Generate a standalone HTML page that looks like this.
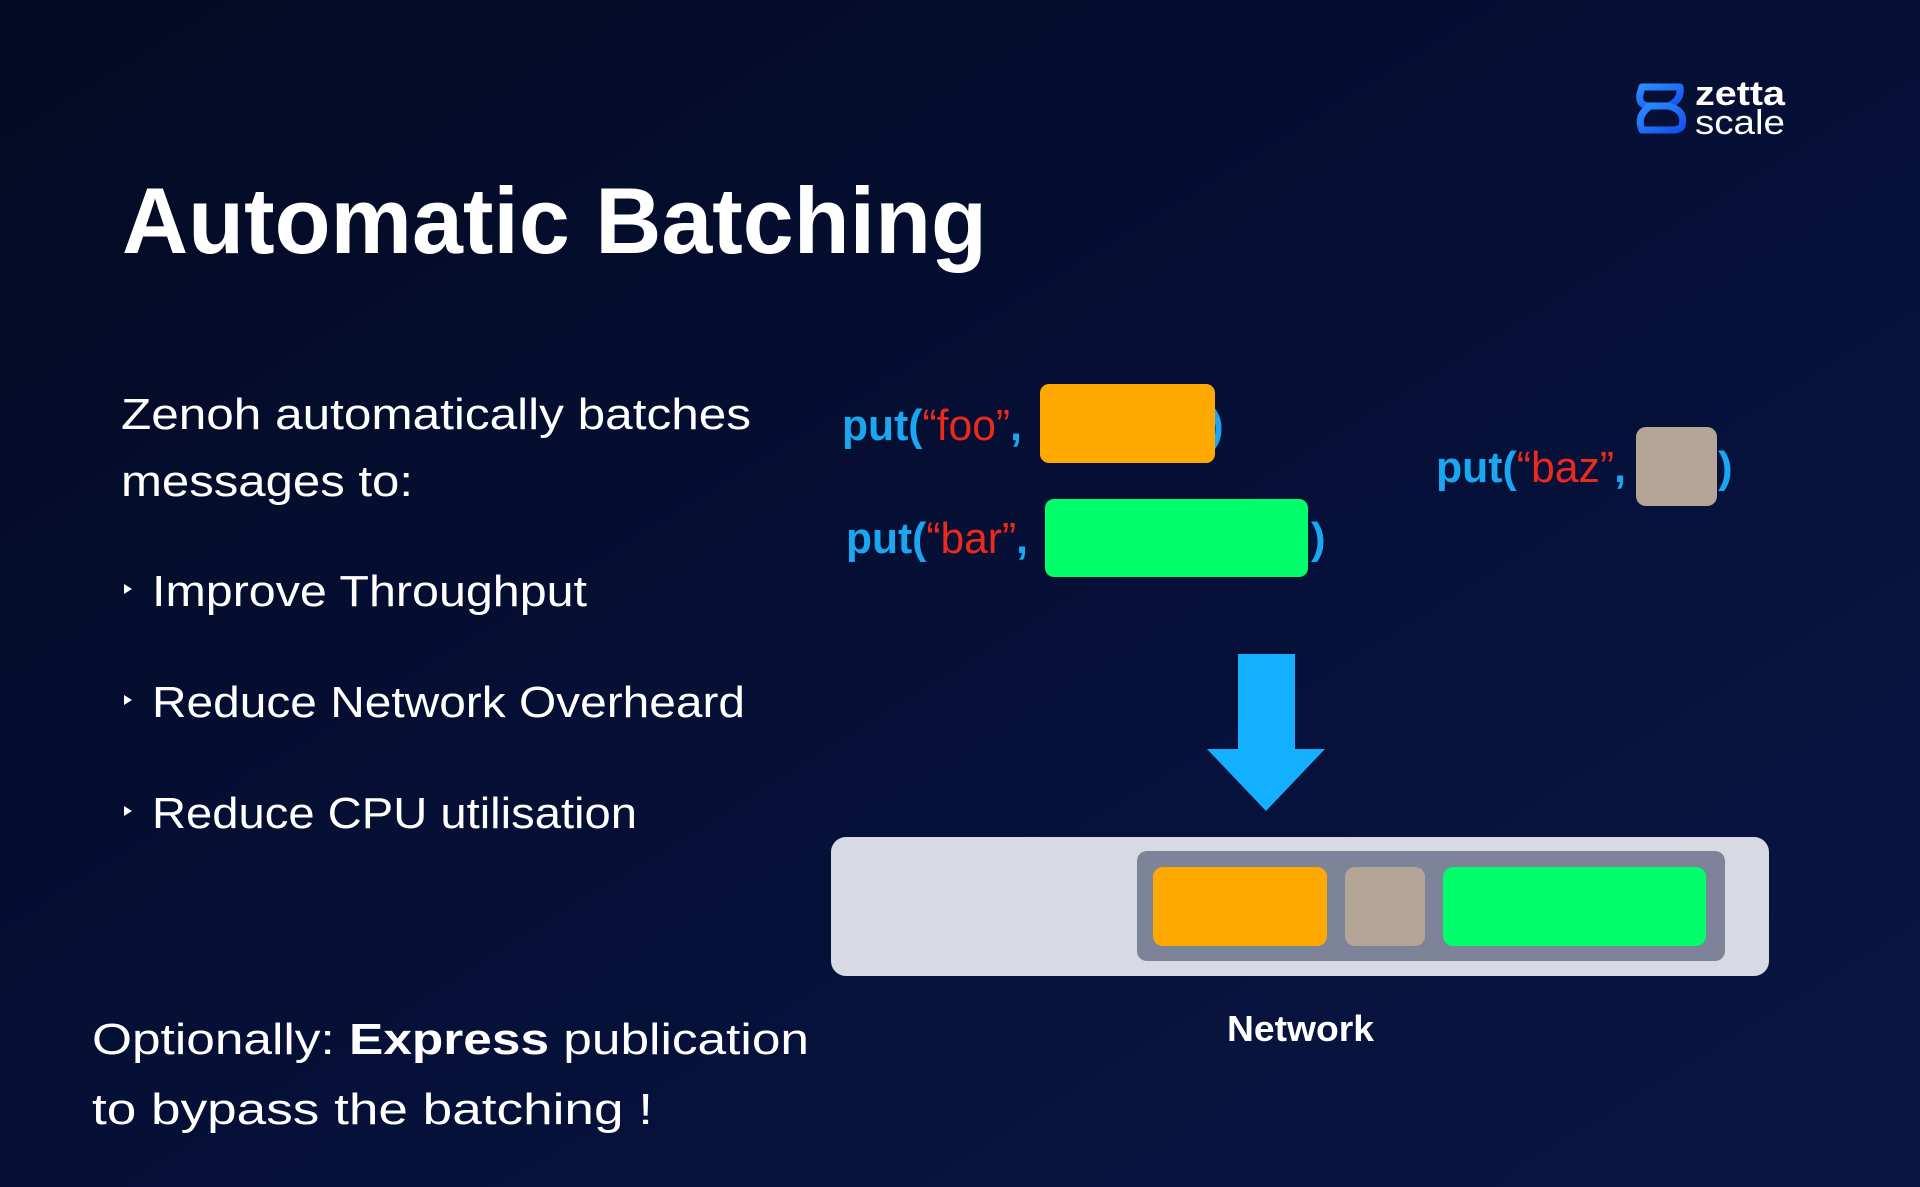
<!DOCTYPE html>
<html><head><meta charset="utf-8"><style>
html,body{margin:0;padding:0;width:1920px;height:1187px;overflow:hidden;background:#040c2a}
svg{display:block}
</style></head><body>
<svg width="1920" height="1187" viewBox="0 0 1920 1187" xmlns="http://www.w3.org/2000/svg">
<defs>
<linearGradient id="bg" x1="0" y1="0" x2="1" y2="1">
<stop offset="0" stop-color="#040a22"/><stop offset="0.6" stop-color="#06113a"/><stop offset="1" stop-color="#0a1744"/>
</linearGradient>
<linearGradient id="lg" x1="0" y1="0" x2="1" y2="1">
<stop offset="0" stop-color="#2a8cff"/><stop offset="1" stop-color="#1650ee"/>
</linearGradient>
</defs>
<rect width="1920" height="1187" fill="url(#bg)"/>
<g fill="none" stroke="url(#lg)" stroke-width="7" stroke-linejoin="round">
<path d="M1642 87 H1680 Q1682 100 1668 106 H1650 Q1638 106 1640 94 Z"/>
<path d="M1650 106 H1668 Q1686 110 1682 126 Q1680 130 1672 130 H1642 Q1636 116 1650 106 Z"/>
</g>
<g font-family="Liberation Sans, sans-serif" fill="#fff">
<text x="1695" y="105" font-size="34" font-weight="bold" textLength="90" lengthAdjust="spacingAndGlyphs">zetta</text>
<text x="1695" y="134" font-size="34" textLength="90" lengthAdjust="spacingAndGlyphs">scale</text>
</g>
<text x="122" y="253" font-family="Liberation Sans, sans-serif" font-weight="bold" font-size="94" fill="#fff" textLength="865" lengthAdjust="spacingAndGlyphs">Automatic Batching</text>
<g font-family="Liberation Sans, sans-serif" font-size="44" fill="#fff">
<text x="121" y="429" textLength="630" lengthAdjust="spacingAndGlyphs">Zenoh automatically batches</text>
<text x="121" y="496" textLength="292" lengthAdjust="spacingAndGlyphs">messages to:</text>
<text x="152" y="606" textLength="435" lengthAdjust="spacingAndGlyphs">Improve Throughput</text>
<text x="152" y="717" textLength="593" lengthAdjust="spacingAndGlyphs">Reduce Network Overheard</text>
<text x="152" y="828" textLength="485" lengthAdjust="spacingAndGlyphs">Reduce CPU utilisation</text>
<text x="92" y="1054" textLength="717" lengthAdjust="spacingAndGlyphs">Optionally: <tspan font-weight="bold">Express</tspan> publication</text>
<text x="92" y="1124" textLength="561" lengthAdjust="spacingAndGlyphs">to bypass the batching !</text>
</g>
<g fill="#fff">
<path d="M124 584 L132 589 L124 594 Z"/>
<path d="M124 695 L132 700 L124 705 Z"/>
<path d="M124 806 L132 811 L124 816 Z"/>
</g>
<g font-family="Liberation Sans, sans-serif" font-size="44">
<text x="842" y="440" textLength="180" lengthAdjust="spacingAndGlyphs"><tspan fill="#1aa6f0" font-weight="bold">put(</tspan><tspan fill="#ec2a1c">“foo”</tspan><tspan fill="#1aa6f0" font-weight="bold">,</tspan></text>
<text x="1209" y="440" fill="#1aa6f0" font-weight="bold">)</text>
<text x="846" y="553" textLength="182" lengthAdjust="spacingAndGlyphs"><tspan fill="#1aa6f0" font-weight="bold">put(</tspan><tspan fill="#ec2a1c">“bar”</tspan><tspan fill="#1aa6f0" font-weight="bold">,</tspan></text>
<text x="1311" y="553" fill="#1aa6f0" font-weight="bold">)</text>
<text x="1436" y="482" textLength="190" lengthAdjust="spacingAndGlyphs"><tspan fill="#1aa6f0" font-weight="bold">put(</tspan><tspan fill="#ec2a1c">“baz”</tspan><tspan fill="#1aa6f0" font-weight="bold">,</tspan></text>
<text x="1718" y="482" fill="#1aa6f0" font-weight="bold">)</text>
</g>
<rect x="1040" y="384" width="175" height="79" rx="9" fill="#ffa900"/>
<rect x="1045" y="499" width="263" height="78" rx="9" fill="#00ff6a"/>
<rect x="1636" y="427" width="81" height="79" rx="10" fill="#b4a597"/>
<path d="M1238 654 H1295 V749 H1325 L1266 811 L1207 749 H1238 Z" fill="#12b0ff"/>
<rect x="831" y="837" width="938" height="139" rx="15" fill="#d7dae2"/>
<rect x="1137" y="851" width="588" height="110" rx="10" fill="#7d8399"/>
<rect x="1153" y="867" width="174" height="79" rx="10" fill="#ffa900"/>
<rect x="1345" y="867" width="80" height="79" rx="10" fill="#b4a597"/>
<rect x="1443" y="867" width="263" height="79" rx="10" fill="#00ff6a"/>
<text x="1227" y="1041" font-family="Liberation Sans, sans-serif" font-weight="bold" font-size="36" fill="#fff" textLength="147" lengthAdjust="spacingAndGlyphs">Network</text>
</svg>
</body></html>
